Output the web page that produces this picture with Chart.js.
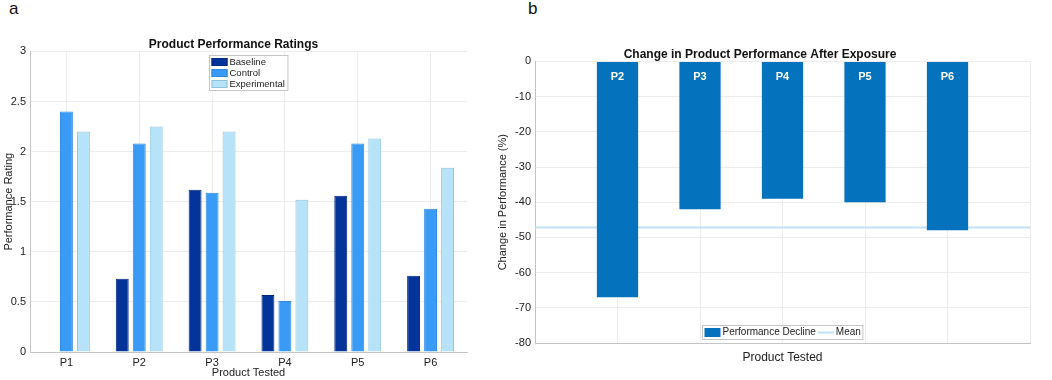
<!DOCTYPE html>
<html>
<head>
<meta charset="utf-8">
<script src="https://cdn.jsdelivr.net/npm/chart.js@4.4.0/dist/chart.umd.min.js"></script>
<style>
  body { margin: 0; background: #fff; width: 1052px; height: 380px; position: relative; overflow: hidden; font-family: "Liberation Sans", Arial, sans-serif; }
  .panel { position: absolute; top: 0; height: 380px; }
  #wrapA { left: 0; width: 480px; }
  #wrapB { left: 490px; width: 562px; }
  .tag { position: absolute; top: -1px; font-size: 17px; color: #111; }
</style>
</head>
<body>
<div class="tag" style="left:9px">a</div>
<div class="tag" style="left:528px">b</div>
<div class="panel" id="wrapA"><canvas id="chartA" width="480" height="380"></canvas></div>
<div class="panel" id="wrapB"><canvas id="chartB" width="562" height="380"></canvas></div>

<script>
// panel a: ratings per product
const products = ['P1', 'P2', 'P3', 'P4', 'P5', 'P6'];
const baseline = [0, 0.73, 1.62, 0.57, 1.56, 0.76];
const control = [2.40, 2.08, 1.59, 0.51, 2.08, 1.43];
const experimental = [2.20, 2.25, 2.20, 1.52, 2.13, 1.84];
const ratingTicks = [0, 0.5, 1, 1.5, 2, 2.5, 3];

// panel b: change after exposure (%)
const declineProducts = ['P2', 'P3', 'P4', 'P5', 'P6'];
const decline = [-67, -42, -39, -40, -48];
const changeTicks = [0, -10, -20, -30, -40, -50, -60, -70, -80];

const FONT = '"Liberation Sans", Arial, sans-serif';
Chart.defaults.font.family = FONT;
Chart.defaults.color = '#222';

const GRID = '#ececec';
const AXIS = '#c4c4c4';

// legend drawn inside the plot area (like the matlab one)
const insideLegend = {
  id: 'insideLegend',
  afterDraw(chart, args, opts) {
    if (!opts.display) return;
    const { ctx, chartArea } = chart;
    const items = chart.data.datasets.map(ds => ({
      text: ds.label,
      color: ds.type === 'line' ? ds.borderColor : ds.backgroundColor,
      border: ds.type === 'line' ? null : ds.borderColor,
      line: ds.type === 'line'
    }));
    ctx.save();
    ctx.font = opts.fontSize + 'px ' + FONT;
    ctx.textBaseline = 'middle';
    const sw = 16, sh = opts.swatchH, gap = 2, pad = 2, rowH = 11;
    const widths = items.map(it => ctx.measureText(it.text).width);
    let w, h;
    if (opts.row) {
      w = pad + items.reduce((s, it, i) => s + sw + gap + widths[i] + pad, 0);
      h = rowH + 3;
    } else {
      w = pad + sw + gap + Math.max(...widths) + pad + 1;
      h = rowH * items.length + 2;
    }
    const x0 = Math.round((chartArea.left + chartArea.right) / 2 - w / 2) + 0.5;
    const y0 = Math.round(opts.row ? chartArea.bottom - opts.offset - h : chartArea.top + opts.offset) + 0.5;
    ctx.fillStyle = '#fff';
    ctx.fillRect(x0, y0, w, h);
    ctx.strokeStyle = AXIS;
    ctx.lineWidth = 1;
    ctx.strokeRect(x0, y0, w, h);
    let x = x0 + pad, y = y0 + (opts.row ? h / 2 : 1 + rowH / 2);
    items.forEach((it, i) => {
      if (it.line) {
        ctx.strokeStyle = it.color;
        ctx.lineWidth = 2;
        ctx.beginPath();
        ctx.moveTo(x, y);
        ctx.lineTo(x + sw, y);
        ctx.stroke();
      } else {
        ctx.fillStyle = it.color;
        ctx.fillRect(x, y - sh / 2, sw, sh);
        if (it.border) {
          ctx.strokeStyle = it.border;
          ctx.lineWidth = 1;
          ctx.strokeRect(x + 0.5, y - sh / 2 + 0.5, sw - 1, sh - 1);
        }
      }
      ctx.fillStyle = '#222';
      ctx.fillText(it.text, x + sw + gap, y);
      if (opts.row) x += sw + gap + widths[i] + pad;
      else y += rowH;
    });
    ctx.restore();
  }
};

// white product names at the top of each bar
const barNames = {
  id: 'barNames',
  afterDatasetsDraw(chart) {
    const meta = chart.getDatasetMeta(0);
    const { ctx } = chart;
    ctx.save();
    ctx.font = 'bold 11px ' + FONT;
    ctx.fillStyle = '#fff';
    ctx.textAlign = 'center';
    ctx.textBaseline = 'middle';
    meta.data.forEach((bar, i) => {
      const v = chart.data.datasets[0].data[i];
      if (v === null || v === undefined) return;
      ctx.fillText(chart.data.labels[i], bar.x, Math.min(bar.y, bar.base) + 15);
    });
    ctx.restore();
  }
};

new Chart(document.getElementById('chartA'), {
  type: 'bar',
  data: {
    labels: products,
    datasets: [
      { label: 'Baseline', data: baseline, backgroundColor: '#04339a', borderColor: '#022a80', borderWidth: 1 },
      { label: 'Control', data: control, backgroundColor: '#3a9bf6', borderColor: '#2c88e0', borderWidth: 1 },
      { label: 'Experimental', data: experimental, backgroundColor: '#b6e3f8', borderColor: '#8ec3de', borderWidth: 1 }
    ]
  },
  plugins: [insideLegend],
  options: {
    responsive: false,
    animation: false,
    layout: { padding: { left: 0, right: 13, top: 0, bottom: 0 } },
    datasets: { bar: { categoryPercentage: 0.7, barPercentage: 0.76 } },
    plugins: {
      legend: { display: false },
      tooltip: { enabled: false },
      title: {
        display: true, text: 'Product Performance Ratings', color: '#111',
        font: { size: 12, weight: 'bold' }, padding: { top: 37, bottom: 0 }
      },
      insideLegend: { display: true, row: false, offset: 4, swatchH: 8, fontSize: 9.5 }
    },
    scales: {
      x: {
        grid: { offset: false, color: GRID, drawTicks: false },
        border: { color: AXIS },
        ticks: { font: { size: 11 }, padding: 4 },
        title: { display: true, text: 'Product Tested', font: { size: 11 }, padding: 0 },
        afterFit(s) { s.height = 28; }
      },
      y: {
        min: 0, max: 3,
        afterBuildTicks(s) { s.ticks = ratingTicks.map(v => ({ value: v })); },
        ticks: { font: { size: 11 }, padding: 4, callback: v => String(v) },
        grid: { color: GRID, drawTicks: false },
        border: { color: AXIS },
        title: { display: true, text: 'Performance Rating', font: { size: 11 }, padding: { top: 2, bottom: 0 } },
        afterFit(s) { s.width = 30; }
      }
    }
  }
});

// empty slot on both sides so the bars sit at 2..6 like the original
const bLabels = [''].concat(declineProducts, ['']);
const bValues = [null].concat(decline, [null]);
const meanDecline = decline.reduce((a, b) => a + b, 0) / decline.length;

new Chart(document.getElementById('chartB'), {
  type: 'bar',
  data: {
    labels: bLabels,
    datasets: [
      { type: 'bar', label: 'Performance Decline', data: bValues, backgroundColor: '#0472bd', borderWidth: 0,
        categoryPercentage: 1, barPercentage: 0.5, order: 1 },
      { type: 'line', label: 'Mean', data: bLabels.map(() => meanDecline), borderColor: '#bfe2f6', borderWidth: 2,
        pointRadius: 0, order: 2 }
    ]
  },
  plugins: [insideLegend, barNames],
  options: {
    responsive: false,
    animation: false,
    layout: { padding: { left: 0, right: 22, top: 0, bottom: 7 } },
    plugins: {
      legend: { display: false },
      tooltip: { enabled: false },
      title: {
        display: true, text: 'Change in Product Performance After Exposure', color: '#111',
        font: { size: 12, weight: 'bold' }, padding: { top: 47, bottom: 0 }
      },
      insideLegend: { display: true, row: true, offset: 4, swatchH: 9, fontSize: 10 }
    },
    scales: {
      x: {
        offset: false,
        grid: { offset: false, color: GRID, drawTicks: false },
        border: { color: AXIS },
        ticks: { display: false },
        title: { display: true, text: 'Product Tested', font: { size: 12 }, padding: { top: 0, bottom: 8 } },
        afterFit(s) { s.height = 30; }
      },
      y: {
        min: -80, max: 0,
        afterBuildTicks(s) { s.ticks = changeTicks.map(v => ({ value: v })); },
        ticks: { font: { size: 11 }, padding: 4, callback: v => String(v) },
        grid: { color: GRID, drawTicks: false },
        border: { color: AXIS },
        title: { display: true, text: 'Change in Performance (%)', font: { size: 11 }, padding: { top: 6, bottom: 0 } },
        afterFit(s) { s.width = 45; }
      }
    }
  }
});
</script>
</body>
</html>
